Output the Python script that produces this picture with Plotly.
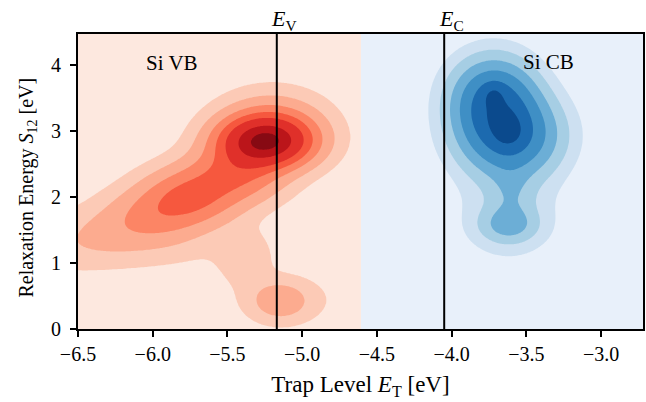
import numpy as np
import plotly.graph_objects as go

# Band edges [eV]
E_V = -5.17
E_C = -4.05
VB_CB_SPLIT = -4.607

# Density kernels of the defect populations: centre (Et, S12), widths, weight
vb_et = [-5.25, -5.20, -5.45, -5.75, -6.00, -6.30, -6.60, -5.15, -5.38, -5.08, -5.90]
vb_s12 = [2.84, 3.00, 2.35, 2.00, 1.70, 1.45, 1.25, 0.42, 1.05, 0.45, 1.25]
vb_sx = [0.19, 0.22, 0.20, 0.20, 0.20, 0.20, 0.20, 0.13, 0.12, 0.22, 0.40]
vb_sy = [0.24, 0.34, 0.28, 0.28, 0.28, 0.28, 0.28, 0.20, 0.30, 0.25, 0.28]
vb_w = [0.75, 0.20, 0.25, 0.27, 0.15, 0.06, 0.03, 0.10, 0.04, 0.025, 0.02]

cb_et = [-3.72, -3.61, -3.72, -3.62, -3.62, -3.60, -3.62]
cb_s12 = [3.48, 2.92, 3.55, 2.98, 1.58, 2.05, 1.72]
cb_sx = [0.18, 0.21, 0.05, 0.07, 0.12, 0.09, 0.22]
cb_sy = [0.40, 0.40, 0.12, 0.17, 0.17, 0.30, 0.45]
cb_w = [0.50, 0.50, 0.14, 0.16, 0.16, 0.08, 0.08]

# Contour thresholds as fractions of the peak density
vb_levels = [0.02, 0.07, 0.16, 0.28, 0.43, 0.68, 0.90]
cb_levels = [0.04, 0.10, 0.20, 0.34, 0.54, 0.80]

vb_colors = ["#fccab6", "#fcab8f", "#fc8565", "#f6583e", "#e0302a", "#bb151a", "#870a13"]
cb_colors = ["#cde0f1", "#a6cee4", "#6caed6", "#3f8fc5", "#1c6aaf", "#0b4a8d"]

x_ticks = [-6.5, -6.0, -5.5, -5.0, -4.5, -4.0, -3.5, -3.0]
x_ticktext = ["\u22126.5", "\u22126.0", "\u22125.5", "\u22125.0", "\u22124.5", "\u22124.0", "\u22123.5", "\u22123.0"]
y_ticks = [0, 1, 2, 3, 4]

X_RANGE = [-6.5, -2.72]
Y_RANGE = [0.0, 4.47]

gx = np.linspace(X_RANGE[0], X_RANGE[1], 420)
gy = np.linspace(Y_RANGE[0], Y_RANGE[1], 320)
GX, GY = np.meshgrid(gx, gy)


def density(ets, s12s, sxs, sys, ws):
    d = np.zeros_like(GX)
    for x0, y0, sx, sy, w in zip(ets, s12s, sxs, sys, ws):
        d += w * np.exp(-0.5 * ((GX - x0) / sx) ** 2 - 0.5 * ((GY - y0) / sy) ** 2)
    return d / d.max()


def level_index(d, levels):
    # map density onto band indices so that integer contours follow the thresholds
    xp = [0.0] + list(levels) + [1.0 + 1e-9]
    fp = list(range(len(levels) + 2))
    return np.interp(d, xp, fp)


def stepped_scale(colors):
    cols = ["rgba(0,0,0,0)"] + list(colors)
    n = len(cols) - 1
    scale = []
    for k, c in enumerate(cols):
        lo = max(0.0, (k - 0.5) / n)
        hi = min(1.0, (k + 0.5) / n)
        scale.append([lo, c])
        scale.append([hi, c])
    return scale


def kde_trace(ets, s12s, sxs, sys, ws, levels, colors):
    z = level_index(density(ets, s12s, sxs, sys, ws), levels)
    return go.Contour(
        x=gx, y=gy, z=z,
        autocontour=False,
        contours=dict(start=1, end=len(levels), size=1, coloring="fill", showlines=False),
        colorscale=stepped_scale(colors),
        line=dict(width=0),
        showscale=False,
        hoverinfo="skip",
    )


fig = go.Figure()
fig.add_trace(kde_trace(vb_et, vb_s12, vb_sx, vb_sy, vb_w, vb_levels, vb_colors))
fig.add_trace(kde_trace(cb_et, cb_s12, cb_sx, cb_sy, cb_w, cb_levels, cb_colors))

FONT = "Liberation Serif"
L, R, T, B = 78, 1, 34, 73
PLOT_W = 646 - L - R

fig.update_layout(
    width=646, height=402,
    margin=dict(l=L, r=R, t=T, b=B),
    paper_bgcolor="white", plot_bgcolor="white",
    font=dict(family=FONT, size=19, color="black"),
    showlegend=False,
    shapes=[
        dict(type="rect", xref="x", yref="paper", x0=X_RANGE[0], x1=VB_CB_SPLIT, y0=0, y1=1,
             fillcolor="#fde8df", line=dict(width=0), layer="below"),
        dict(type="rect", xref="x", yref="paper", x0=VB_CB_SPLIT, x1=X_RANGE[1], y0=0, y1=1,
             fillcolor="#e8f0fa", line=dict(width=0), layer="below"),
        dict(type="line", xref="x", yref="paper", x0=E_V, x1=E_V, y0=0, y1=1,
             line=dict(color="black", width=2)),
        dict(type="line", xref="x", yref="paper", x0=E_C, x1=E_C, y0=0, y1=1,
             line=dict(color="black", width=2)),
    ],
    annotations=[
        dict(x=E_V, y=1, xref="x", yref="paper", yanchor="bottom", yshift=-2, xshift=7,
             text="<i>E</i><sub>V</sub>", showarrow=False, font=dict(size=22)),
        dict(x=E_C, y=1, xref="x", yref="paper", yanchor="bottom", yshift=-2, xshift=7,
             text="<i>E</i><sub>C</sub>", showarrow=False, font=dict(size=22)),
        dict(x=-5.87, y=4.03, xref="x", yref="y", text="Si VB", showarrow=False, font=dict(size=21)),
        dict(x=-3.35, y=4.05, xref="x", yref="y", text="Si CB", showarrow=False, font=dict(size=21)),
        dict(x=(27 - L) / PLOT_W, y=0.48, xref="paper", yref="paper", textangle=-90,
             xanchor="center", yanchor="middle",
             text="Relaxation Energy <i>S</i><sub>12</sub> [eV]", showarrow=False, font=dict(size=20)),
    ],
)

axis_common = dict(
    showline=True, linecolor="black", linewidth=2, mirror=True,
    ticks="outside", ticklen=6, tickwidth=1.5, tickcolor="black",
    showgrid=False, zeroline=False, tickfont=dict(size=20),
)
fig.update_xaxes(range=X_RANGE, tickvals=x_ticks, ticktext=x_ticktext,
                 title=dict(text="Trap Level <i>E</i><sub>T</sub> [eV]", standoff=12),
                 **axis_common)
fig.update_yaxes(range=Y_RANGE, tickvals=y_ticks, ticklabelstandoff=5,
                 **axis_common)

fig.write_html("out.html")
